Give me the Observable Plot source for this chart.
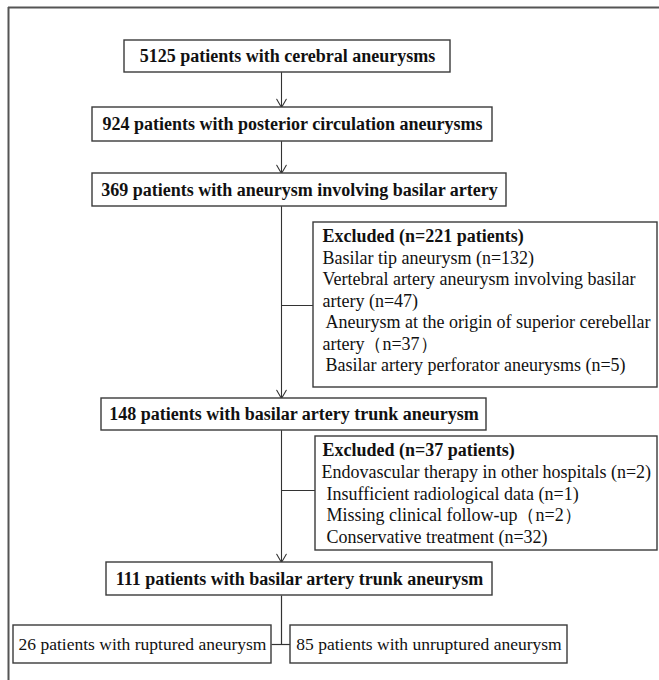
<!DOCTYPE html>
<html><head><meta charset="utf-8">
<script src="https://cdn.jsdelivr.net/npm/d3@7"></script>
<script src="https://cdn.jsdelivr.net/npm/@observablehq/plot@0.6"></script>
<style>body{margin:0;background:#fff}#chart svg{display:block}</style>
</head><body><div id="chart"></div>
<script>
// ---- data ----
const stageCounts = [5125, 924, 369, 148, 111];
const stageLabels = [
  "patients with cerebral aneurysms",
  "patients with posterior circulation aneurysms",
  "patients with aneurysm involving basilar artery",
  "patients with basilar artery trunk aneurysm",
  "patients with basilar artery trunk aneurysm"
];
const excludedTotals = [221, 37];
const excluded1Items = [
  "Basilar tip aneurysm (n=132)",
  "Vertebral artery aneurysm involving basilar",
  "artery (n=47)",
  "Aneurysm at the origin of superior cerebellar",
  "artery\uFF08n=37\uFF09",
  "Basilar artery perforator aneurysms (n=5)"
];
const excluded2Items = [
  "Endovascular therapy in other hospitals (n=2)",
  "Insufficient radiological data (n=1)",
  "Missing clinical follow-up\uFF08n=2\uFF09",
  "Conservative treatment (n=32)"
];
const splitCounts = [26, 85];
const splitLabels = ["patients with ruptured aneurysm", "patients with unruptured aneurysm"];

// ---- layout (page geometry) ----
const W = 659, H = 680;
const spineX = 281;
const stageGeom = [[124,450,40,72],[92,492,107,141],[92,506,173,206],[101,486,398,430],[106,492,562,595]];
const exclGeom = [
  {x1:313, x2:657, y1:222, y2:387, ty:236, step:21.5, tx:322, cy:305, indents:[0,0,0,3,0,3]},
  {x1:315, x2:657, y1:436, y2:550, ty:450, step:21.7, tx:322, cy:490, indents:[-1,4,4,4]}
];
const splitGeom = [[13,271,625,663],[290,567,625,663]];

const FONT = "Liberation Serif, Times New Roman, serif";

const stageBoxes = stageCounts.map((n, i) => ({
  x1: stageGeom[i][0], x2: stageGeom[i][1], y1: stageGeom[i][2], y2: stageGeom[i][3],
  label: `${n} ${stageLabels[i]}`
}));
const exclItems = [excluded1Items, excluded2Items];
const exclBoxes = excludedTotals.map((n, i) => ({...exclGeom[i], title: `Excluded (n=${n} patients)`, items: exclItems[i]}));
const splitBoxes = splitCounts.map((n, i) => ({
  x1: splitGeom[i][0], x2: splitGeom[i][1], y1: splitGeom[i][2], y2: splitGeom[i][3],
  label: `${n} ${splitLabels[i]}`
}));

const exclTitles = exclBoxes.map(b => ({x: b.tx, y: b.ty, text: b.title}));
const exclLines = exclBoxes.flatMap(b => b.items.map((t, j) => ({x: b.tx + b.indents[j], y: b.ty + b.step * (j + 1), text: t})));

// arrows down the spine
const arrows = [];
for (let i = 0; i < stageBoxes.length - 1; i++) {
  arrows.push({x1: spineX, y1: stageBoxes[i].y2, x2: spineX, y2: stageBoxes[i + 1].y1});
}
const connectors = exclBoxes.map(b => ({x1: spineX, y1: b.cy, x2: b.x1, y2: b.cy}));
const splitY = (splitBoxes[0].y1 + splitBoxes[0].y2) / 2;
connectors.push({x1: spineX, y1: stageBoxes[4].y2, x2: spineX, y2: splitY});
connectors.push({x1: splitBoxes[0].x2, y1: splitY, x2: splitBoxes[1].x1, y2: splitY});

const stroke = "#333";
const chart = Plot.plot({
  width: W, height: H, margin: 0,
  x: {domain: [0, W], range: [0, W], axis: null},
  y: {domain: [0, H], range: [0, H], axis: null},
  style: {background: "white"},
  marks: [
    Plot.ruleY([7], {x1: 8, x2: W, stroke: "#555", strokeWidth: 2}),
    Plot.ruleX([8], {y1: 7, y2: H, stroke: "#555", strokeWidth: 2}),
    Plot.link(connectors, {x1: "x1", y1: "y1", x2: "x2", y2: "y2", stroke, strokeWidth: 1.2}),
    Plot.arrow(arrows, {x1: "x1", y1: "y1", x2: "x2", y2: "y2", bend: 0, headLength: 13, headAngle: 60, stroke, strokeWidth: 1.1}),
    Plot.rect([...stageBoxes, ...exclBoxes, ...splitBoxes], {x1: "x1", x2: "x2", y1: "y1", y2: "y2", fill: "white", stroke: "#3a3a3a", strokeWidth: 1.4}),
    Plot.text(stageBoxes, {x: d => (d.x1 + d.x2) / 2, y: d => (d.y1 + d.y2) / 2, text: "label", fontFamily: FONT, fontSize: 18, fontWeight: "bold", fill: "#111"}),
    Plot.text(splitBoxes, {x: d => (d.x1 + d.x2) / 2, y: d => (d.y1 + d.y2) / 2, text: "label", fontFamily: FONT, fontSize: 17.5, fill: "#111"}),
    Plot.text(exclTitles, {x: "x", y: "y", text: "text", textAnchor: "start", fontFamily: FONT, fontSize: 18, fontWeight: "bold", fill: "#111"}),
    Plot.text(exclLines, {x: "x", y: "y", text: "text", textAnchor: "start", fontFamily: FONT, fontSize: 18, fill: "#111"})
  ]
});
document.getElementById("chart").appendChild(chart);
</script>
</body></html>
